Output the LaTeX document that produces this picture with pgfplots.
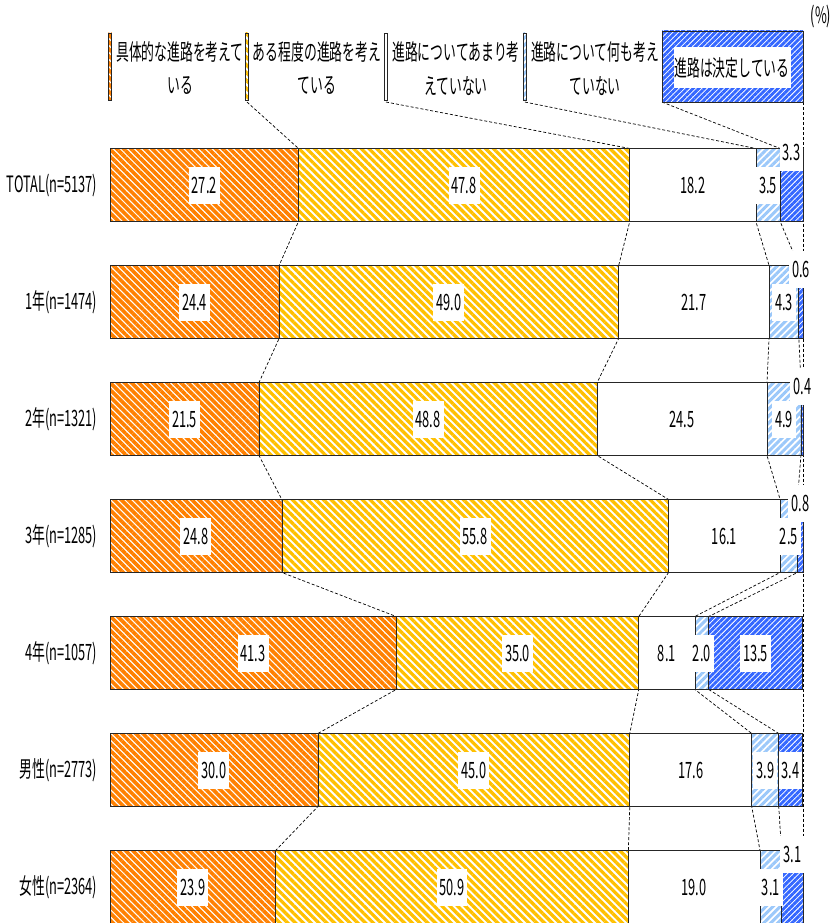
\documentclass[border=0pt]{standalone}
\usepackage{fontspec}
\setmainfont[FakeStretch=0.57]{Noto Sans CJK JP}
\usepackage{pgfplots}
\pgfplotsset{compat=1.18}
\usepackage{pgfplotstable}
\usetikzlibrary{patterns.meta}

\definecolor{cOr}{RGB}{255,128,0}
\definecolor{cYe}{RGB}{255,192,0}
\definecolor{cLb}{RGB}{155,200,250}
\definecolor{cBl}{RGB}{51,102,255}
\newcommand\lbl{\fontsize{22.5bp}{27bp}\selectfont}

\tikzset{
 pOr/.style={pattern={Lines[angle=-45,distance=5bp,line width=3.6bp]}, pattern color=cOr, draw=black!85, line width=0.7bp},
 pYe/.style={pattern={Lines[angle=-45,distance=5.5bp,line width=3.3bp]}, pattern color=cYe, draw=black!85, line width=0.7bp},
 pWh/.style={fill=white, draw=black!85, line width=0.7bp},
 pLb/.style={pattern={Lines[angle=45,distance=5bp,line width=3bp]}, pattern color=cLb, draw=black!85, line width=0.7bp},
 pBl/.style={pattern={Lines[angle=45,distance=4bp,line width=2.9bp]}, pattern color=cBl, draw=black!85, line width=0.7bp},
 dsh/.style={draw=black, line width=0.7bp, dash pattern=on 3bp off 2bp},
}

\pgfplotstableread{
idx a b c d e up
0 27.2 47.8 18.2 3.5 3.3 1
1 24.4 49.0 21.7 4.3 0.6 1
2 21.5 48.8 24.5 4.9 0.4 1
3 24.8 55.8 16.1 2.5 0.8 1
4 41.3 35.0 8.1 2.0 13.5 0
5 30.0 45.0 17.6 3.9 3.4 0
6 23.9 50.9 19.0 3.1 3.1 1
}\tbl

\pgfplotstableread{
pos a b c d
-0.312 27.2 47.8 18.2 3.5
0.312 27.2 47.8 18.2 3.5
0.688 24.4 49.0 21.7 4.3
1.312 24.4 49.0 21.7 4.3
1.688 21.5 48.8 24.5 4.9
2.312 21.5 48.8 24.5 4.9
2.688 24.8 55.8 16.1 2.5
3.312 24.8 55.8 16.1 2.5
3.688 41.3 35.0 8.1 2.0
4.312 41.3 35.0 8.1 2.0
4.688 30.0 45.0 17.6 3.9
5.312 30.0 45.0 17.6 3.9
5.688 23.9 50.9 19.0 3.1
6.312 23.9 50.9 19.0 3.1
}\lns

\pgfplotsset{
 base/.style={at={(456.5bp,445.5bp)}, anchor=center, scale only axis,
   width=693bp, height=936bp, xmin=0, xmax=100, ymin=-1.5, ymax=6.5,
   y dir=reverse, clip=false},
 lab/.style={nodes near coords={\pgfmathprintnumber[fixed,fixed zerofill,precision=1]{\pgfplotspointmeta}},
   point meta=explicit, draw=none, mark=none,
   every node near coord/.append style={anchor=center, fill=white, inner xsep=3bp, inner ysep=0pt, minimum height=37bp, font=\lbl, text=black}},
}

\begin{document}
\lbl
\begin{tikzpicture}
\useasboundingbox (0,0) rectangle (834bp,923bp);
% series lines (behind bars)
\begin{axis}[base, hide axis]
\addplot[dsh] table[x=a, y=pos]{\lns};
\addplot[dsh] table[x expr=\thisrow{a}+\thisrow{b}, y=pos]{\lns};
\addplot[dsh] table[x expr=\thisrow{a}+\thisrow{b}+\thisrow{c}, y=pos]{\lns};
\addplot[dsh] table[x expr=\thisrow{a}+\thisrow{b}+\thisrow{c}+\thisrow{d}, y=pos]{\lns};
\addplot[dsh] coordinates {(100,-0.312) (100,6.312)};
% legend connectors
\addplot[dsh] coordinates {(19.77,-0.709) (27.2,-0.312)};
\addplot[dsh] coordinates {(39.83,-0.709) (75.0,-0.312)};
\addplot[dsh] coordinates {(59.88,-0.709) (93.2,-0.312)};
\addplot[dsh] coordinates {(79.65,-0.709) (96.7,-0.312)};
\addplot[dsh] coordinates {(100,-0.709) (100,-0.312)};
\end{axis}
% bars
\begin{axis}[base, xbar stacked, bar width=73bp,
  axis line style={draw=none}, xtick=\empty, ytick={0,...,6},
  yticklabels={TOTAL(n=5137),1年(n=1474),2年(n=1321),3年(n=1285),4年(n=1057),男性(n=2773),女性(n=2364)},
  tick style={draw=none}, major tick length=0pt,
  yticklabel style={font=\lbl, xshift=-5bp}]
\addplot[pOr] table[x=a, y=idx]{\tbl};
\addplot[pYe] table[x=b, y=idx]{\tbl};
\addplot[pWh] table[x=c, y=idx]{\tbl};
\addplot[pLb] table[x=d, y=idx]{\tbl};
\addplot[pBl] table[x=e, y=idx]{\tbl};
\end{axis}
% value labels
\begin{axis}[base, hide axis, /pgf/number format/assume math mode=true]
\addplot[lab] table[x expr=\thisrow{a}/2, y=idx, meta=a]{\tbl};
\addplot[lab] table[x expr=\thisrow{a}+\thisrow{b}/2, y=idx, meta=b]{\tbl};
\addplot[lab] table[x expr=\thisrow{a}+\thisrow{b}+\thisrow{c}/2, y=idx, meta=c]{\tbl};
\addplot[lab] table[x expr=\thisrow{a}+\thisrow{b}+\thisrow{c}+\thisrow{d}/2, y=idx, meta=d]{\tbl};
\addplot[lab] table[x expr=\thisrow{a}+\thisrow{b}+\thisrow{c}+\thisrow{d}+\thisrow{e}/2,
  y expr=\thisrow{idx}-0.282*\thisrow{up}, meta=e]{\tbl};
\end{axis}
% legend
\path[pOr] (108.5bp,823bp) rectangle (111.5bp,890bp);
\path[pYe] (245.5bp,823bp) rectangle (248.5bp,890bp);
\path[pWh] (384.5bp,823bp) rectangle (387.5bp,890bp);
\path[pLb] (523.5bp,823bp) rectangle (526.5bp,890bp);
\path[pBl] (662bp,821bp) rectangle (803bp,892bp);
\fill[white] (674bp,835bp) rectangle (791bp,876bp);
\node[font=\lbl] at (180bp,871bp) {具体的な進路を考えて};
\node[font=\lbl] at (180bp,837bp) {いる};
\node[font=\lbl] at (317bp,871bp) {ある程度の進路を考え};
\node[font=\lbl] at (317bp,837bp) {ている};
\node[font=\lbl] at (456bp,871bp) {進路についてあまり考};
\node[font=\lbl] at (456bp,837bp) {えていない};
\node[font=\lbl] at (595bp,871bp) {進路について何も考え};
\node[font=\lbl] at (595bp,837bp) {ていない};
\node[font=\lbl] at (732bp,855bp) {進路は決定している};
\node[font=\lbl] at (821bp,906bp) {(\%)};
\end{tikzpicture}
\end{document}
